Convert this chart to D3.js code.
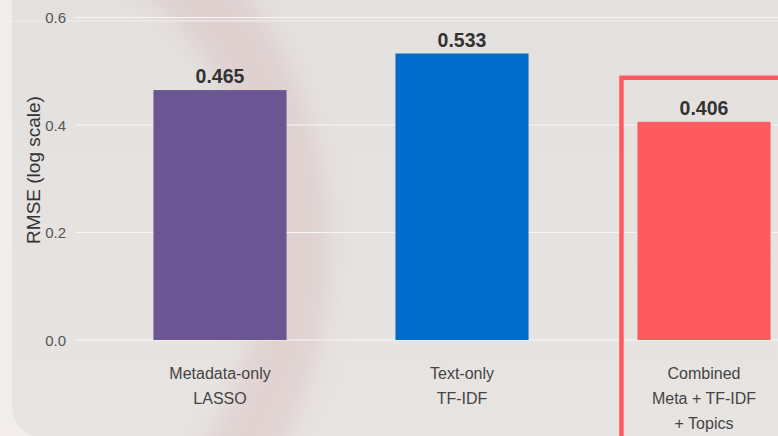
<!DOCTYPE html>
<html>
<head>
<meta charset="utf-8">
<script src="https://cdn.jsdelivr.net/npm/d3@7/dist/d3.min.js"></script>
<style>
  html, body { margin: 0; padding: 0; background: #f2ebea; }
  svg { display: block; font-family: "Liberation Sans", Arial, Helvetica, sans-serif; }
</style>
</head>
<body>
<svg id="chart" width="778" height="436"></svg>
<script>
// Model comparison: RMSE per feature set
const categories = ["Metadata-only\nLASSO", "Text-only\nTF-IDF", "Combined\nMeta + TF-IDF\n+ Topics"];
const rmse = [0.465, 0.533, 0.406];
const barColors = ["#6b5694", "#006cc9", "#ff5a5f"];
const yTicks = [0.0, 0.2, 0.4, 0.6];
const highlighted = 2;

const W = 778, H = 436;
const svg = d3.select("#chart");
const defs = svg.append("defs");

// Backdrop: soft panel with a rounded lower-left corner
const grad = defs.append("linearGradient").attr("id", "panelFill")
  .attr("x1", 0).attr("y1", 0).attr("x2", 0).attr("y2", 1);
grad.append("stop").attr("offset", "0%").attr("stop-color", "#dcd8d6");
grad.append("stop").attr("offset", "6%").attr("stop-color", "#e3e0de");
grad.append("stop").attr("offset", "100%").attr("stop-color", "#e7e4e2");

defs.append("filter").attr("id", "soft")
  .attr("x", "-50%").attr("y", "-50%").attr("width", "200%").attr("height", "200%")
  .append("feGaussianBlur").attr("stdDeviation", 12);

svg.append("rect").attr("width", W).attr("height", H).attr("fill", "#f3ecec");
svg.append("rect").attr("x", 12).attr("y", -40).attr("width", W + 40).attr("height", H + 42)
  .attr("rx", 32).attr("fill", "url(#panelFill)");

// faint decorative arc behind the plot
svg.append("ellipse")
  .attr("cx", 30).attr("cy", 250).attr("rx", 265).attr("ry", 330)
  .attr("fill", "none").attr("stroke", "#d4acac").attr("stroke-opacity", 0.3)
  .attr("stroke-width", 70).attr("filter", "url(#soft)");
svg.append("line").attr("x1", 12).attr("x2", W).attr("y1", 21).attr("y2", 21)
  .attr("stroke", "#ecebe9").attr("stroke-width", 2).attr("opacity", 0.7);

// Scales
const x = d3.scaleBand()
  .domain(d3.range(categories.length))
  .range([99, 825])
  .paddingInner(0.45)
  .paddingOuter(0.225);

const y = d3.scaleLinear().domain([0, 0.6]).range([340, 17.5]);

// Gridlines
svg.append("g").selectAll("line").data(yTicks).join("line")
  .attr("x1", 75).attr("x2", W)
  .attr("y1", d => y(d)).attr("y2", d => y(d))
  .attr("stroke", "#f7f6f5").attr("stroke-width", 1.2);

// Y axis labels
const yAxis = d3.axisLeft(y).tickValues(yTicks).tickFormat(d3.format(".1f")).tickSize(0).tickPadding(0);
const gy = svg.append("g").attr("transform", "translate(66,0)").call(yAxis)
  .attr("font-size", 15).attr("font-family", null);
gy.select(".domain").remove();
gy.selectAll("text").attr("fill", "#555").attr("dy", "0.35em");

svg.append("text")
  .attr("transform", `translate(40,170) rotate(-90)`)
  .attr("text-anchor", "middle")
  .attr("fill", "#333").attr("font-size", 19)
  .text("RMSE (log scale)");

// Bars
svg.append("g").selectAll("rect").data(rmse).join("rect")
  .attr("x", (d, i) => x(i))
  .attr("width", x.bandwidth())
  .attr("y", d => y(d))
  .attr("height", d => y(0) - y(d))
  .attr("fill", (d, i) => barColors[i]);

// Value labels
svg.append("g").selectAll("text").data(rmse).join("text")
  .attr("x", (d, i) => x(i) + x.bandwidth() / 2)
  .attr("y", d => y(d) - 7)
  .attr("text-anchor", "middle")
  .attr("font-weight", "bold").attr("font-size", 19.5)
  .attr("fill", "#333")
  .text(d => d3.format(".3f")(d));

// Category labels
const cat = svg.append("g").selectAll("text").data(categories).join("text")
  .attr("text-anchor", "middle")
  .attr("fill", "#444").attr("font-size", 16)
  .attr("transform", (d, i) => `translate(${x(i) + x.bandwidth() / 2},379)`);
cat.selectAll("tspan").data(d => d.split("\n")).join("tspan")
  .attr("x", 0).attr("y", (d, j) => j * 25)
  .text(d => d);

// Highlight frame around the best model
svg.append("rect")
  .attr("x", x(highlighted) - 16)
  .attr("y", y(rmse[highlighted]) - 44)
  .attr("width", 300).attr("height", 400)
  .attr("fill", "none").attr("stroke", "#ff5a5f").attr("stroke-width", 4.5);
</script>
</body>
</html>
